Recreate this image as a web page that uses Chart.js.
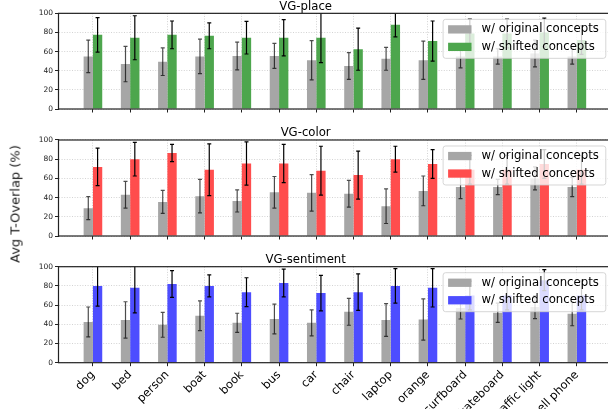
<!DOCTYPE html>
<html lang="en">
<head>
<meta charset="UTF-8">
<title>Avg T-Overlap</title>
<script src="https://cdn.jsdelivr.net/npm/chart.js@4.4.1/dist/chart.umd.min.js"></script>
<style>
  html, body { margin: 0; padding: 0; background: #fff; overflow: hidden; width: 608px; height: 409px; }
  canvas { position: absolute; left: 0; }
  #ylab { position: absolute; left: 15px; top: 204px; transform: translate(-50%, -50%) rotate(-90deg);
          font: normal 400 13px "DejaVu Sans"; color: #1a1a1a; white-space: nowrap; z-index: 5; }
</style>
</head>
<body>
<canvas id="c-place" width="670" height="120" style="top:0px"></canvas>
<canvas id="c-color" width="670" height="126" style="top:120px"></canvas>
<canvas id="c-sent" width="670" height="163" style="top:246px"></canvas>
<div id="ylab">Avg T-Overlap (%)</div>
<script>
// categories along x (shared by all three panels)
const categories = ['dog', 'bed', 'person', 'boat', 'book', 'bus', 'car', 'chair', 'laptop',
                    'orange', 'surfboard', 'skateboard', 'traffic light', 'cell phone'];
const yTicks = [0, 20, 40, 60, 80, 100];

// VG-place
const placeOrig     = [55, 47, 49.5, 55, 55.5, 55.5, 51, 45, 52.5, 51, 55, 55, 58, 55];
const placeOrigErr  = [17, 18.5, 14.5, 18, 14.5, 13, 20.5, 14, 12, 20, 12, 8, 14, 8];
const placeShift    = [77.5, 74.5, 77.5, 76.5, 74.5, 74.5, 74.5, 62.5, 88, 71, 79, 79, 80, 72];
const placeShiftErr = [18, 23, 14.5, 13.5, 17, 19, 26, 22, 12.5, 21, 15, 15, 15, 15];

// VG-color
const colorOrig     = [29, 43, 35.5, 41.5, 36.5, 45.5, 45, 44, 31, 47, 51, 51, 60, 51];
const colorOrigErr  = [12, 14, 12, 17.5, 11.5, 16.5, 19, 14, 18, 15.5, 12, 8, 12, 10];
const colorShift    = [72, 80, 86.5, 69, 75.5, 75.5, 68, 63.5, 80, 75, 69, 69, 75, 69];
const colorShiftErr = [19.5, 17.5, 9, 27, 22.5, 20, 25.5, 25, 13.5, 15, 15, 15, 15, 15];

// VG-sentiment
const sentOrig     = [42.5, 44.5, 39.5, 49, 41.5, 45.5, 41.5, 53, 44.5, 45, 57, 52, 58, 51];
const sentOrigErr  = [15.5, 19, 13, 15.5, 10, 15.5, 13.5, 14, 17, 21.5, 11.5, 10, 12, 12.5];
const sentShift    = [80, 78, 82, 80, 73.5, 83, 72.5, 73.5, 80, 78, 70, 70, 86, 70];
const sentShiftErr = [21, 26, 14, 11.5, 15, 14.5, 18.5, 19, 18, 20, 15, 15, 11, 15];

const FONT = 'DejaVu Sans';
const GRAY = '#a6a6a6';

// error bars, drawn from the same values through the y scale
const errorBars = {
  id: 'errorBars',
  afterDatasetsDraw(chart) {
    const {ctx, chartArea: a, scales: {y}} = chart;
    ctx.save();
    ctx.beginPath();
    ctx.rect(a.left, a.top, a.right - a.left, a.bottom - a.top);
    ctx.clip();
    chart.data.datasets.forEach((ds, di) => {
      const meta = chart.getDatasetMeta(di);
      ctx.strokeStyle = ds.errColor;
      ctx.lineWidth = 1.2;
      meta.data.forEach((bar, i) => {
        const v = ds.data[i].y, e = ds.err[i];
        const x = bar.x;
        const y1 = y.getPixelForValue(v + e), y2 = y.getPixelForValue(v - e);
        ctx.beginPath();
        ctx.moveTo(x, y1); ctx.lineTo(x, y2);
        ctx.moveTo(x - 2, y1); ctx.lineTo(x + 2, y1);
        ctx.moveTo(x - 2, y2); ctx.lineTo(x + 2, y2);
        ctx.stroke();
      });
    });
    ctx.restore();
  }
};

// axes frame + legend box in the upper right
const frameAndLegend = {
  id: 'frameAndLegend',
  afterDraw(chart) {
    const {ctx, chartArea: a} = chart;
    ctx.save();
    ctx.strokeStyle = '#222';
    ctx.lineWidth = 1.2;
    ctx.strokeRect(a.left, a.top, a.right - a.left, a.bottom - a.top);

    const w = 162.7, h = 39;
    const x0 = a.right - 5.5 - w, y0 = a.top + 6;
    ctx.fillStyle = 'rgba(255,255,255,0.8)';
    ctx.strokeStyle = 'rgba(204,204,204,0.8)';
    ctx.lineWidth = 1;
    ctx.beginPath();
    ctx.roundRect(x0, y0, w, h, 2.5);
    ctx.fill();
    ctx.stroke();
    ctx.font = '11.7px "' + FONT + '"';
    ctx.textBaseline = 'middle';
    chart.data.datasets.forEach((ds, i) => {
      const cy = y0 + 10 + i * 17.5;
      ctx.fillStyle = ds.backgroundColor;
      ctx.fillRect(x0 + 5, cy - 4.1, 23.4, 8.3);
      ctx.fillStyle = '#000';
      ctx.fillText(ds.label, x0 + 38.4, cy);
    });
    ctx.restore();
  }
};

function makePanel(id, title, orig, origErr, shift, shiftErr, shiftColor, padTop, xHeight, showLabels) {
  return new Chart(document.getElementById(id), {
    type: 'bar',
    data: {
      datasets: [
        {
          label: 'w/ original concepts',
          data: orig.map((v, i) => ({x: i, y: v})),
          backgroundColor: GRAY,
          categoryPercentage: 0.5, barPercentage: 1.0,
          err: origErr, errColor: 'rgba(0,0,0,0.7)'
        },
        {
          label: 'w/ shifted concepts',
          data: shift.map((v, i) => ({x: i, y: v})),
          backgroundColor: shiftColor,
          categoryPercentage: 0.5, barPercentage: 1.0,
          err: shiftErr, errColor: '#000'
        }
      ]
    },
    options: {
      responsive: false,
      animation: false,
      devicePixelRatio: 1,
      layout: {padding: {top: padTop, left: 0, right: 58.7, bottom: 0}},
      plugins: {
        legend: {display: false},
        tooltip: {enabled: false},
        title: {
          display: true, text: title, color: '#000',
          font: {family: FONT, size: 11.7, weight: 'normal', lineHeight: 1.14},
          padding: {top: 0, bottom: 0}
        }
      },
      scales: {
        x: {
          type: 'linear', min: -0.925, max: 13.925, bounds: 'data', offset: false,
          afterBuildTicks: s => { s.ticks = categories.map((c, i) => ({value: i})); },
          afterFit: s => { s.height = xHeight; },
          ticks: {
            display: showLabels, autoSkip: false, minRotation: 45, maxRotation: 45, padding: 2,
            color: '#000', font: {family: FONT, size: 11.5},
            callback: v => categories[v]
          },
          grid: {offset: false, color: '#c8c8c8', lineWidth: 0.8, tickLength: 3.5, tickColor: '#222', tickWidth: 1},
          border: {display: false, dash: [1, 1.6]}
        },
        y: {
          min: 0, max: 100,
          afterBuildTicks: s => { s.ticks = yTicks.map(v => ({value: v})); },
          afterFit: s => { s.width = 58.5; },
          ticks: {padding: 2, color: '#222', font: {family: FONT, size: 7.5}},
          grid: {color: '#c8c8c8', lineWidth: 0.8, tickLength: 3.5, tickColor: '#222', tickWidth: 1},
          border: {display: false, dash: [1, 1.6]}
        }
      }
    },
    plugins: [errorBars, frameAndLegend]
  });
}

makePanel('c-place', 'VG-place', placeOrig, placeOrigErr, placeShift, placeShiftErr, '#4da64d', 0, 11, false);
makePanel('c-color', 'VG-color', colorOrig, colorOrigErr, colorShift, colorShiftErr, '#ff4d4d', 6.66, 10, false);
makePanel('c-sent', 'VG-sentiment', sentOrig, sentOrigErr, sentShift, sentShiftErr, '#4d4dff', 7.36, 46.3, true);
</script>
</body>
</html>
